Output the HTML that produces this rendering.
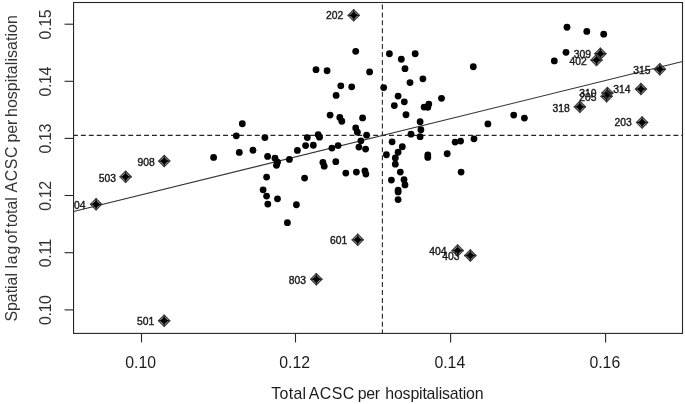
<!DOCTYPE html>
<html lang="en"><head><meta charset="utf-8"><title>Moran scatterplot</title>
<style>html,body{margin:0;padding:0;background:#fff;overflow:hidden}svg{display:block;will-change:transform}text{font-family:"Liberation Sans",sans-serif;fill:#1c1c1c}.ln{stroke:#262626;stroke-width:1.1;fill:none}.rg{stroke:#333;stroke-width:1.05}.tk{font-size:16px}.lab{font-size:15.9px}.pt{font-size:10.35px;text-anchor:end;stroke:#1c1c1c;stroke-width:.4}.rot{fill:#333}.d{fill:#000}.dg{fill:#000;fill-opacity:.36}.dc{fill:none;stroke:#1e1e1e;stroke-width:1.3}.di{fill:#000}.dr{fill:none;stroke:#3c3c3c;stroke-width:1.2}</style></head><body>
<svg width="685" height="404" viewBox="0 0 685 404">
<rect width="685" height="404" fill="#fff"/>
<defs><clipPath id="cp"><rect x="73.55" y="2.5" width="608.95" height="330.9"/></clipPath></defs>
<line class="ln" x1="141.5" y1="333.4" x2="141.5" y2="342.4"/>
<line class="ln" x1="295.5" y1="333.4" x2="295.5" y2="342.4"/>
<line class="ln" x1="450.6" y1="333.4" x2="450.6" y2="342.4"/>
<line class="ln" x1="605.6" y1="333.4" x2="605.6" y2="342.4"/>
<line class="ln" x1="64.55" y1="24.2" x2="73.55" y2="24.2"/>
<line class="ln" x1="64.55" y1="81.3" x2="73.55" y2="81.3"/>
<line class="ln" x1="64.55" y1="138.4" x2="73.55" y2="138.4"/>
<line class="ln" x1="64.55" y1="195.5" x2="73.55" y2="195.5"/>
<line class="ln" x1="64.55" y1="252.7" x2="73.55" y2="252.7"/>
<line class="ln" x1="64.55" y1="309.9" x2="73.55" y2="309.9"/>
<text class="tk" style="font-size:15.8px" text-anchor="middle" x="140.7" y="368.2">0.10</text>
<text class="tk" style="font-size:15.8px" text-anchor="middle" x="294.7" y="368.2">0.12</text>
<text class="tk" style="font-size:15.8px" text-anchor="middle" x="449.8" y="368.2">0.14</text>
<text class="tk" style="font-size:15.8px" text-anchor="middle" x="604.8" y="368.2">0.16</text>
<text class="tk rot" style="letter-spacing:-.4px" text-anchor="middle" transform="translate(51.2,24.65) rotate(-90)">0.15</text>
<text class="tk rot" style="letter-spacing:-.4px" text-anchor="middle" transform="translate(51.2,81.75) rotate(-90)">0.14</text>
<text class="tk rot" style="letter-spacing:-.4px" text-anchor="middle" transform="translate(51.2,138.85) rotate(-90)">0.13</text>
<text class="tk rot" style="letter-spacing:-.4px" text-anchor="middle" transform="translate(51.2,195.95) rotate(-90)">0.12</text>
<text class="tk rot" style="letter-spacing:-.4px" text-anchor="middle" transform="translate(51.2,253.15) rotate(-90)">0.11</text>
<text class="tk rot" style="letter-spacing:-.4px" text-anchor="middle" transform="translate(51.2,310.35) rotate(-90)">0.10</text>
<text class="lab" y="398.6"><tspan x="271.3" style="letter-spacing:0.3px">Total</tspan> <tspan x="308.75" style="letter-spacing:0.45px">ACSC</tspan> <tspan x="357.7" style="letter-spacing:-0.25px">per</tspan> <tspan x="385.3" style="letter-spacing:-0.18px">hospitalisation</tspan></text>
<text class="lab rot" transform="translate(16.9,0) rotate(-90)"><tspan x="-321.61" style="letter-spacing:0px">Spatial</tspan> <tspan x="-268.61" style="letter-spacing:0.93px">lag</tspan> <tspan x="-243.4" style="letter-spacing:0.3px">of</tspan> <tspan x="-227.2" style="letter-spacing:0px">total</tspan> <tspan x="-192.55" style="letter-spacing:0.6px">ACSC</tspan> <tspan x="-142.6" style="letter-spacing:0px">per</tspan> <tspan x="-117.05" style="letter-spacing:0.086px">hospitalisation</tspan></text>
<g clip-path="url(#cp)">
<line class="ln" stroke-dasharray="4.9 3" x1="73" y1="135.35" x2="682.5" y2="135.35"/>
<line class="ln" stroke-dasharray="5 2.93" x1="382.4" y1="334.6" x2="382.4" y2="2.5"/>
<line class="ln rg" x1="73.55" y1="211.6" x2="682.5" y2="61.5"/>
<circle class="d" cx="355.7" cy="51.35" r="3.4"/>
<circle class="d" cx="316.0" cy="69.65" r="3.4"/>
<circle class="d" cx="327.1" cy="70.75" r="3.4"/>
<circle class="d" cx="369.6" cy="71.95" r="3.4"/>
<circle class="d" cx="340.8" cy="85.85" r="3.4"/>
<circle class="d" cx="351.7" cy="86.85" r="3.4"/>
<circle class="d" cx="336.1" cy="95.45" r="3.4"/>
<circle class="d" cx="242.3" cy="123.75" r="3.4"/>
<circle class="d" cx="236.3" cy="135.85" r="3.4"/>
<circle class="d" cx="264.9" cy="137.55" r="3.4"/>
<circle class="d" cx="213.6" cy="157.45" r="3.4"/>
<circle class="d" cx="239.3" cy="152.45" r="3.4"/>
<circle class="d" cx="253.0" cy="150.25" r="3.4"/>
<circle class="d" cx="267.6" cy="156.45" r="3.4"/>
<circle class="d" cx="275.0" cy="158.15" r="3.4"/>
<circle class="d" cx="277.5" cy="162.15" r="3.4"/>
<circle class="d" cx="276.5" cy="165.35" r="3.4"/>
<circle class="d" cx="289.4" cy="159.45" r="3.4"/>
<circle class="d" cx="297.4" cy="150.45" r="3.4"/>
<circle class="d" cx="305.6" cy="145.55" r="3.4"/>
<circle class="d" cx="313.3" cy="145.25" r="3.4"/>
<circle class="d" cx="307.3" cy="137.55" r="3.4"/>
<circle class="d" cx="318.2" cy="134.65" r="3.4"/>
<circle class="d" cx="319.5" cy="137.15" r="3.4"/>
<circle class="d" cx="330.1" cy="115.05" r="3.4"/>
<circle class="d" cx="339.8" cy="117.45" r="3.4"/>
<circle class="d" cx="341.8" cy="121.25" r="3.4"/>
<circle class="d" cx="362.6" cy="117.95" r="3.4"/>
<circle class="d" cx="355.7" cy="127.95" r="3.4"/>
<circle class="d" cx="357.4" cy="132.15" r="3.4"/>
<circle class="d" cx="366.6" cy="135.15" r="3.4"/>
<circle class="d" cx="360.9" cy="140.85" r="3.4"/>
<circle class="d" cx="358.9" cy="147.05" r="3.4"/>
<circle class="d" cx="365.6" cy="149.05" r="3.4"/>
<circle class="d" cx="331.9" cy="148.05" r="3.4"/>
<circle class="d" cx="338.1" cy="145.55" r="3.4"/>
<circle class="d" cx="322.9" cy="162.45" r="3.4"/>
<circle class="d" cx="324.2" cy="166.15" r="3.4"/>
<circle class="d" cx="335.8" cy="161.65" r="3.4"/>
<circle class="d" cx="345.8" cy="173.05" r="3.4"/>
<circle class="d" cx="356.4" cy="172.05" r="3.4"/>
<circle class="d" cx="364.9" cy="170.85" r="3.4"/>
<circle class="d" cx="365.9" cy="174.05" r="3.4"/>
<circle class="d" cx="266.6" cy="177.05" r="3.4"/>
<circle class="d" cx="304.6" cy="178.05" r="3.4"/>
<circle class="d" cx="263.1" cy="189.85" r="3.4"/>
<circle class="d" cx="266.6" cy="196.05" r="3.4"/>
<circle class="d" cx="267.8" cy="204.05" r="3.4"/>
<circle class="d" cx="277.5" cy="198.85" r="3.4"/>
<circle class="d" cx="296.4" cy="204.75" r="3.4"/>
<circle class="d" cx="287.4" cy="222.65" r="3.4"/>
<circle class="d" cx="389.4" cy="53.75" r="3.4"/>
<circle class="d" cx="401.3" cy="59.25" r="3.4"/>
<circle class="d" cx="415.2" cy="53.75" r="3.4"/>
<circle class="d" cx="405.0" cy="68.65" r="3.4"/>
<circle class="d" cx="422.9" cy="78.85" r="3.4"/>
<circle class="d" cx="410.0" cy="82.55" r="3.4"/>
<circle class="d" cx="473.3" cy="66.75" r="3.4"/>
<circle class="d" cx="383.7" cy="87.55" r="3.4"/>
<circle class="d" cx="398.1" cy="96.05" r="3.4"/>
<circle class="d" cx="441.5" cy="98.35" r="3.4"/>
<circle class="d" cx="404.3" cy="101.85" r="3.4"/>
<circle class="d" cx="394.3" cy="105.55" r="3.4"/>
<circle class="d" cx="428.8" cy="104.05" r="3.4"/>
<circle class="d" cx="424.1" cy="107.05" r="3.4"/>
<circle class="d" cx="427.8" cy="107.35" r="3.4"/>
<circle class="d" cx="406.0" cy="114.75" r="3.4"/>
<circle class="d" cx="420.1" cy="121.75" r="3.4"/>
<circle class="d" cx="420.9" cy="129.65" r="3.4"/>
<circle class="d" cx="411.0" cy="134.15" r="3.4"/>
<circle class="d" cx="420.1" cy="136.65" r="3.4"/>
<circle class="d" cx="392.1" cy="141.85" r="3.4"/>
<circle class="d" cx="402.3" cy="146.75" r="3.4"/>
<circle class="d" cx="398.1" cy="152.25" r="3.4"/>
<circle class="d" cx="386.4" cy="154.75" r="3.4"/>
<circle class="d" cx="395.3" cy="157.95" r="3.4"/>
<circle class="d" cx="395.3" cy="164.15" r="3.4"/>
<circle class="d" cx="400.3" cy="172.05" r="3.4"/>
<circle class="d" cx="391.4" cy="180.05" r="3.4"/>
<circle class="d" cx="404.0" cy="179.75" r="3.4"/>
<circle class="d" cx="405.0" cy="184.95" r="3.4"/>
<circle class="d" cx="398.1" cy="190.05" r="3.4"/>
<circle class="d" cx="398.1" cy="191.95" r="3.4"/>
<circle class="d" cx="398.1" cy="199.55" r="3.4"/>
<circle class="d" cx="427.8" cy="154.95" r="3.4"/>
<circle class="d" cx="427.8" cy="157.45" r="3.4"/>
<circle class="d" cx="447.2" cy="153.75" r="3.4"/>
<circle class="d" cx="455.1" cy="142.05" r="3.4"/>
<circle class="d" cx="460.6" cy="141.05" r="3.4"/>
<circle class="d" cx="474.0" cy="138.85" r="3.4"/>
<circle class="d" cx="487.9" cy="123.95" r="3.4"/>
<circle class="d" cx="513.7" cy="115.05" r="3.4"/>
<circle class="d" cx="524.4" cy="118.05" r="3.4"/>
<circle class="d" cx="461.1" cy="172.05" r="3.4"/>
<circle class="d" cx="567.0" cy="27.25" r="3.4"/>
<circle class="d" cx="586.8" cy="31.45" r="3.4"/>
<circle class="d" cx="603.7" cy="34.15" r="3.4"/>
<circle class="d" cx="566.0" cy="52.35" r="3.4"/>
<circle class="d" cx="554.3" cy="60.95" r="3.4"/>
<path class="dg" d="M348.05 15.3L353.7 9.65L359.35 15.3L353.7 20.95Z"/>
<path class="dg" d="M158.6 161.1L164.25 155.45L169.9 161.1L164.25 166.75Z"/>
<path class="dg" d="M119.95 176.85L125.6 171.2L131.25 176.85L125.6 182.5Z"/>
<path class="dg" d="M90.45 204.3L96.1 198.65L101.75 204.3L96.1 209.95Z"/>
<path class="dg" d="M352.05 239.8L357.7 234.15L363.35 239.8L357.7 245.45Z"/>
<path class="dg" d="M310.7 279.25L316.35 273.6L322.0 279.25L316.35 284.9Z"/>
<path class="dg" d="M158.55 320.7L164.2 315.05L169.85 320.7L164.2 326.35Z"/>
<path class="dg" d="M451.95 250.6L457.6 244.95L463.25 250.6L457.6 256.25Z"/>
<path class="dg" d="M464.7 255.5L470.35 249.85L476.0 255.5L470.35 261.15Z"/>
<path class="dg" d="M594.75 53.7L600.4 48.05L606.05 53.7L600.4 59.35Z"/>
<path class="dg" d="M590.85 60.1L596.5 54.45L602.15 60.1L596.5 65.75Z"/>
<path class="dg" d="M654.15 69.3L659.8 63.65L665.45 69.3L659.8 74.95Z"/>
<path class="dg" d="M635.3 89.05L640.95 83.4L646.6 89.05L640.95 94.7Z"/>
<path class="dg" d="M601.75 93.1L607.4 87.45L613.05 93.1L607.4 98.75Z"/>
<path class="dg" d="M600.95 96.3L606.6 90.65L612.25 96.3L606.6 101.95Z"/>
<path class="dg" d="M574.2 106.8L579.85 101.15L585.5 106.8L579.85 112.45Z"/>
<path class="dg" d="M636.45 122.4L642.1 116.75L647.75 122.4L642.1 128.05Z"/>
<path class="dc" d="M347.75 15.3H359.65M353.7 9.35V21.25"/>
<path class="dc" d="M158.3 161.1H170.2M164.25 155.15V167.05"/>
<path class="dc" d="M119.65 176.85H131.55M125.6 170.9V182.8"/>
<path class="dc" d="M90.15 204.3H102.05M96.1 198.35V210.25"/>
<path class="dc" d="M351.75 239.8H363.65M357.7 233.85V245.75"/>
<path class="dc" d="M310.4 279.25H322.3M316.35 273.3V285.2"/>
<path class="dc" d="M158.25 320.7H170.15M164.2 314.75V326.65"/>
<path class="dc" d="M451.65 250.6H463.55M457.6 244.65V256.55"/>
<path class="dc" d="M464.4 255.5H476.3M470.35 249.55V261.45"/>
<path class="dc" d="M594.45 53.7H606.35M600.4 47.75V59.65"/>
<path class="dc" d="M590.55 60.1H602.45M596.5 54.15V66.05"/>
<path class="dc" d="M653.85 69.3H665.75M659.8 63.35V75.25"/>
<path class="dc" d="M635.0 89.05H646.9M640.95 83.1V95.0"/>
<path class="dc" d="M601.45 93.1H613.35M607.4 87.15V99.05"/>
<path class="dc" d="M600.65 96.3H612.55M606.6 90.35V102.25"/>
<path class="dc" d="M573.9 106.8H585.8M579.85 100.85V112.75"/>
<path class="dc" d="M636.15 122.4H648.05M642.1 116.45V128.35"/>
<path class="di" d="M349.8 15.3L353.7 11.4L357.6 15.3L353.7 19.2Z"/>
<path class="di" d="M160.35 161.1L164.25 157.2L168.15 161.1L164.25 165.0Z"/>
<path class="di" d="M121.7 176.85L125.6 172.95L129.5 176.85L125.6 180.75Z"/>
<path class="di" d="M92.2 204.3L96.1 200.4L100.0 204.3L96.1 208.2Z"/>
<path class="di" d="M353.8 239.8L357.7 235.9L361.6 239.8L357.7 243.7Z"/>
<path class="di" d="M312.45 279.25L316.35 275.35L320.25 279.25L316.35 283.15Z"/>
<path class="di" d="M160.3 320.7L164.2 316.8L168.1 320.7L164.2 324.6Z"/>
<path class="di" d="M453.7 250.6L457.6 246.7L461.5 250.6L457.6 254.5Z"/>
<path class="di" d="M466.45 255.5L470.35 251.6L474.25 255.5L470.35 259.4Z"/>
<path class="di" d="M596.5 53.7L600.4 49.8L604.3 53.7L600.4 57.6Z"/>
<path class="di" d="M592.6 60.1L596.5 56.2L600.4 60.1L596.5 64.0Z"/>
<path class="di" d="M655.9 69.3L659.8 65.4L663.7 69.3L659.8 73.2Z"/>
<path class="di" d="M637.05 89.05L640.95 85.15L644.85 89.05L640.95 92.95Z"/>
<path class="di" d="M603.5 93.1L607.4 89.2L611.3 93.1L607.4 97.0Z"/>
<path class="di" d="M602.7 96.3L606.6 92.4L610.5 96.3L606.6 100.2Z"/>
<path class="di" d="M575.95 106.8L579.85 102.9L583.75 106.8L579.85 110.7Z"/>
<path class="di" d="M638.2 122.4L642.1 118.5L646.0 122.4L642.1 126.3Z"/>
<path class="dr" d="M348.05 15.3L353.7 9.65L359.35 15.3L353.7 20.95Z"/>
<path class="dr" d="M158.6 161.1L164.25 155.45L169.9 161.1L164.25 166.75Z"/>
<path class="dr" d="M119.95 176.85L125.6 171.2L131.25 176.85L125.6 182.5Z"/>
<path class="dr" d="M90.45 204.3L96.1 198.65L101.75 204.3L96.1 209.95Z"/>
<path class="dr" d="M352.05 239.8L357.7 234.15L363.35 239.8L357.7 245.45Z"/>
<path class="dr" d="M310.7 279.25L316.35 273.6L322.0 279.25L316.35 284.9Z"/>
<path class="dr" d="M158.55 320.7L164.2 315.05L169.85 320.7L164.2 326.35Z"/>
<path class="dr" d="M451.95 250.6L457.6 244.95L463.25 250.6L457.6 256.25Z"/>
<path class="dr" d="M464.7 255.5L470.35 249.85L476.0 255.5L470.35 261.15Z"/>
<path class="dr" d="M594.75 53.7L600.4 48.05L606.05 53.7L600.4 59.35Z"/>
<path class="dr" d="M590.85 60.1L596.5 54.45L602.15 60.1L596.5 65.75Z"/>
<path class="dr" d="M654.15 69.3L659.8 63.65L665.45 69.3L659.8 74.95Z"/>
<path class="dr" d="M635.3 89.05L640.95 83.4L646.6 89.05L640.95 94.7Z"/>
<path class="dr" d="M601.75 93.1L607.4 87.45L613.05 93.1L607.4 98.75Z"/>
<path class="dr" d="M600.95 96.3L606.6 90.65L612.25 96.3L606.6 101.95Z"/>
<path class="dr" d="M574.2 106.8L579.85 101.15L585.5 106.8L579.85 112.45Z"/>
<path class="dr" d="M636.45 122.4L642.1 116.75L647.75 122.4L642.1 128.05Z"/>
<text class="pt" x="343.2" y="19.0">202</text>
<text class="pt" x="154.8" y="166.0">908</text>
<text class="pt" x="116.1" y="181.75">503</text>
<text class="pt" x="85.4" y="208.95">504</text>
<text class="pt" x="347.3" y="243.9">601</text>
<text class="pt" x="306.0" y="284.1">803</text>
<text class="pt" x="154.15" y="325.1">501</text>
<text class="pt" x="446.45" y="254.9">404</text>
<text class="pt" x="459.6" y="260.0">403</text>
<text class="pt" x="591.1" y="57.9">309</text>
<text class="pt" x="586.7" y="64.9">402</text>
<text class="pt" x="650.45" y="73.9">315</text>
<text class="pt" x="630.6" y="92.65">314</text>
<text class="pt" x="596.6" y="97.4">310</text>
<text class="pt" x="596.6" y="100.6">205</text>
<text class="pt" x="569.85" y="111.5">318</text>
<text class="pt" x="631.85" y="126.1">203</text>
</g>
<rect class="ln" x="73.55" y="2.5" width="608.95" height="330.9"/>
</svg></body></html>
